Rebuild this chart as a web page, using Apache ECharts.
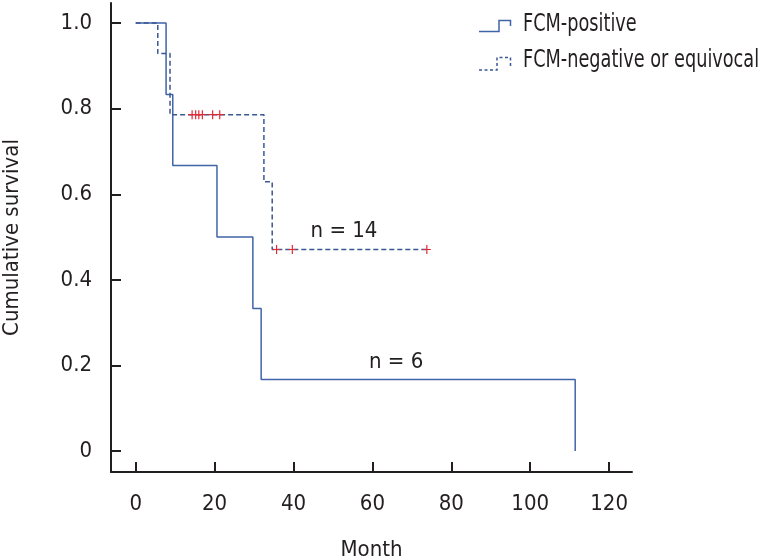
<!DOCTYPE html>
<html>
<head>
<meta charset="utf-8">
<script src="https://cdn.jsdelivr.net/npm/echarts@6/dist/echarts.min.js"></script>
<style>
  html, body { margin: 0; padding: 0; background: #fff; }
  #chart { width: 759px; height: 560px; }
</style>
</head>
<body>
<div id="chart"></div>
<script>
const FONT = '"Liberation Sans Narrow", "DejaVu Sans Condensed", sans-serif'
const TEXT = '#231f20'

// FCM-positive (n = 6)
const posTimes = [0, 7.7, 9.4, 20.6, 29.7, 31.8, 111.4]
const posSurv = [1, 0.833, 0.667, 0.5, 0.333, 0.167, 0]

// FCM-negative or equivocal (n = 14)
const negTimes = [0, 5.6, 8.7, 32.5, 34.6, 73.8]
const negSurv = [1, 0.929, 0.786, 0.629, 0.471, 0.471]

// censored cases on the negative curve
const censorTimes = [14.3, 15.2, 16.0, 16.9, 19.5, 21.3, 35.7, 39.7, 73.8]
const censorSurv = [0.786, 0.786, 0.786, 0.786, 0.786, 0.786, 0.471, 0.471, 0.471]

const xTicks = [0, 20, 40, 60, 80, 100, 120]
const yTicks = [0, 0.2, 0.4, 0.6, 0.8, 1.0]

const noteText = ['n = 14', 'n = 6']
const noteX = [52.8, 66]
const noteY = [0.514, 0.208]

const legendNames = ['FCM-positive', 'FCM-negative or equivocal']

const zip = (xs, ys) => xs.map((x, i) => [x, ys[i]])

const chart = echarts.init(document.getElementById('chart'))

chart.setOption({
  animation: false,
  backgroundColor: '#fff',
  textStyle: {fontFamily: FONT},
  grid: {left: 111, right: 127, top: 3, bottom: 88, outerBoundsMode: 'none', containLabel: false},
  xAxis: {
    type: 'value',
    min: -6.26,
    max: 125.8,
    name: 'Month',
    nameLocation: 'middle',
    nameGap: 67,
    nameTextStyle: {fontFamily: FONT, fontSize: 22, color: TEXT},
    axisLine: {onZero: false, lineStyle: {color: TEXT, width: 2}},
    axisTick: {inside: true, length: 10, customValues: xTicks, lineStyle: {color: TEXT, width: 2}},
    axisLabel: {customValues: xTicks, margin: 21, fontFamily: FONT, fontSize: 22, color: TEXT},
    splitLine: {show: false},
  },
  yAxis: {
    type: 'value',
    min: -0.049,
    max: 1.047,
    name: 'Cumulative survival',
    nameLocation: 'middle',
    nameGap: 88,
    nameRotate: 90,
    nameTextStyle: {fontFamily: FONT, fontSize: 22, color: TEXT},
    axisLine: {show: true, onZero: false, lineStyle: {color: TEXT, width: 2}},
    axisTick: {show: true, inside: true, length: 10, customValues: yTicks, lineStyle: {color: TEXT, width: 2}},
    axisLabel: {
      customValues: yTicks,
      margin: 19,
      fontFamily: FONT,
      fontSize: 22,
      color: TEXT,
      formatter: v => (v === 0 ? '0' : v.toFixed(1)),
    },
    splitLine: {show: false},
  },
  series: [
    {
      name: legendNames[0],
      type: 'line',
      step: 'end',
      symbol: 'none',
      data: zip(posTimes, posSurv),
      lineStyle: {color: '#4064a8', width: 1.5},
    },
    {
      name: legendNames[1],
      type: 'line',
      step: 'end',
      symbol: 'none',
      data: zip(negTimes, negSurv),
      lineStyle: {color: '#3a5894', width: 1.5, type: [5, 3]},
    },
    {
      type: 'scatter',
      data: zip(censorTimes, censorSurv),
      symbol: 'path://M3.4,0H4.6V9H3.4Z M0,3.9H8V5.1H0Z',
      symbolSize: [8, 9],
      itemStyle: {color: '#e02a36', opacity: 1},
      z: 5,
    },
    {
      type: 'scatter',
      data: noteX.map((x, i) => ({value: [x, noteY[i]], name: noteText[i]})),
      symbolSize: 0,
      itemStyle: {opacity: 1},
      label: {
        show: true,
        position: 'inside',
        formatter: p => p.name,
        fontFamily: FONT,
        fontSize: 22,
        color: TEXT,
        opacity: 1,
      },
    },
  ],
  graphic: [
    {
      type: 'polyline',
      shape: {points: [[479, 31.5], [499, 31.5], [499, 20.5], [510.5, 20.5], [510.5, 26]]},
      style: {stroke: '#4064a8', lineWidth: 1.5, fill: null},
    },
    {
      type: 'polyline',
      shape: {points: [[479, 70], [497, 70], [497, 57.5], [510.5, 57.5], [510.5, 67]]},
      style: {stroke: '#3a5894', lineWidth: 1.5, fill: null, lineDash: [3, 2.5]},
    },
    {
      type: 'text',
      x: 523,
      y: 13,
      scaleX: 0.82,
      style: {text: legendNames[0], font: '24px ' + FONT, fill: TEXT},
    },
    {
      type: 'text',
      x: 523,
      y: 49,
      scaleX: 0.82,
      style: {text: legendNames[1], font: '24px ' + FONT, fill: TEXT},
    },
  ],
})
</script>
</body>
</html>
